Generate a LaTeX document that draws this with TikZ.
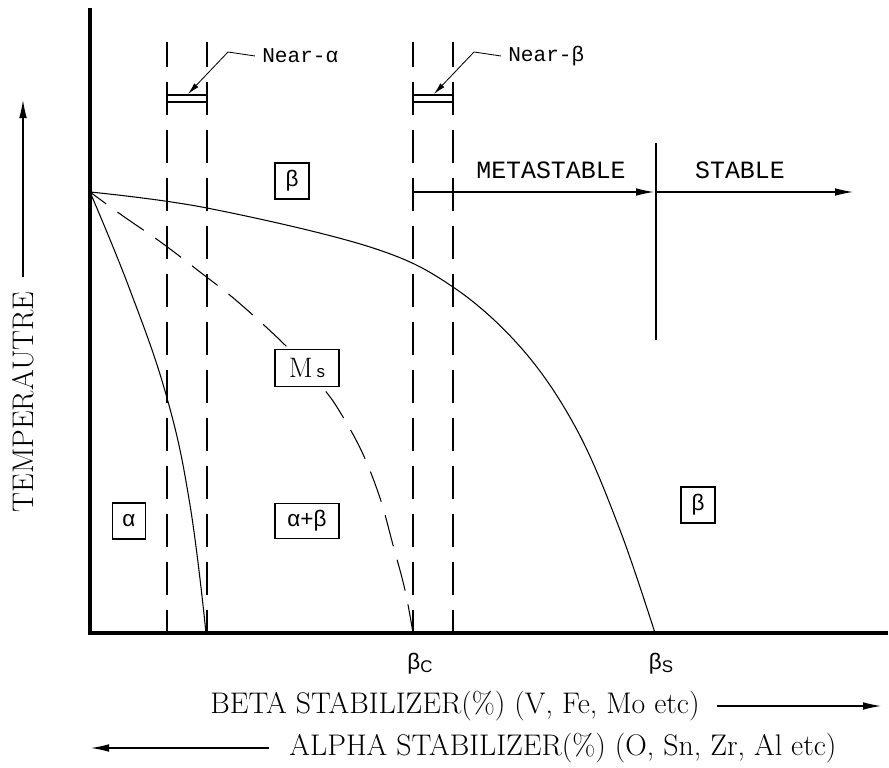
\documentclass[tikz,border=0pt]{standalone}
\usepackage{fontspec}
\usepackage{tikz}
\usetikzlibrary{arrows.meta,positioning}
\newfontfamily\tphmono{Liberation Mono}
\newfontfamily\tphsans{Liberation Sans}
\tikzset{
  tphaxis/.style={line width=2.5pt,line cap=rect},
  tphcurve/.style={line width=0.75pt},
  tphdash/.style={line width=0.75pt,dash pattern=on 0.825cm off 0.375cm},
  tphbox/.style={draw,line width=0.75pt,fill=white,inner sep=0pt,
                 minimum width=0.85cm,minimum height=0.9cm,
                 font=\tphsans\fontsize{16}{16}\selectfont},
  tpharrow/.style={-{Latex[length=4.5mm,width=1.9mm]},line width=0.75pt},
  tphlead/.style={-{Latex[length=3mm,width=1.4mm]},line width=0.6pt},
  tphtext/.style={font=\fontsize{21.2}{24}\selectfont,inner ysep=0pt},
  tphmonotext/.style={font=\tphmono\fontsize{17.7}{20}\selectfont,inner sep=0pt},
  tphnear/.style={font=\tphmono\fontsize{15}{17}\selectfont,inner ysep=0pt,
                  inner xsep=0.175cm,anchor=west}
}
\begin{document}
\begin{tikzpicture}[x=0.025cm,y=-0.025cm]
  \useasboundingbox (0,0) rectangle (889,768);

  % near-alpha and near-beta bands
  \foreach \xd in {167,207,413,453}
    \draw[tphdash,dash phase=0.2cm] (\xd,42) -- (\xd,633);
  \foreach \xs in {0,246} {
    \draw[tphcurve] (167+\xs,95) -- (207+\xs,95);
    \draw[tphcurve] (167+\xs,102) -- (207+\xs,102);
  }

  % phase boundaries
  \coordinate (orig) at (90,192);
  \draw[tphcurve] plot[smooth,tension=0.6] coordinates {(orig) (207,208)
    (370,247) (453,287) (523,350) (577,430) (620,530) (655,633)};
  \draw[tphcurve] plot[smooth,tension=0.7] coordinates {(orig) (130,290)
    (167,398) (190,505) (206,633)};
  \draw[tphdash,dash pattern=on 0.8cm off 0.35cm,dash phase=0.3cm]
    plot[smooth,tension=0.6] coordinates {(orig) (123,216) (162,243)
    (200,272) (238,302) (288,348) (323,388) (340,412) (362,452) (380,498)
    (393,545) (405,590) (413,633)};

  % axes
  \coordinate (ytop) at (90,10);
  \coordinate (xright) at (886,633);
  \draw[tphaxis] (ytop) |- (xright);

  % region labels
  \node[tphbox] (betatop) at (292,181) {β};
  \node[tphbox,minimum width=1.6cm,minimum height=0.925cm] (ms) at (307,368)
    {{\rmfamily\fontsize{20}{20}\selectfont M}\hspace{0.1cm}{\fontsize{12}{12}\selectfont s}};
  \node[tphbox,minimum width=0.825cm] (alpha) at (129,521) {α};
  \node[tphbox,minimum width=1.6cm,minimum height=0.875cm] (alphabeta)
    at (307,521) {α+β};
  \node[tphbox] (betaright) at (698,505) {β};

  % near labels
  \node[tphnear] (neara) at (255,56) {Near-α};
  \coordinate (nabend) at (228,52);
  \coordinate (natip) at (188,94);
  \draw[tphlead] (neara.west) -- (nabend) -- (natip);
  \node[tphnear] (nearb) at (501,56) {Near-β};
  \coordinate (nbbend) at (474,52);
  \coordinate (nbtip) at (434,94);
  \draw[tphlead] (nearb.west) -- (nbbend) -- (nbtip);

  % metastable / stable
  \coordinate (metal) at (413,192);
  \coordinate (metar) at (654,192);
  \coordinate (divtop) at (656,143);
  \coordinate (divbot) at (656,340);
  \coordinate (divmid) at (656,192);
  \coordinate (stabler) at (853,192);
  \draw[tpharrow] (metal) -- (metar);
  \draw[tphcurve] (divtop) -- (divbot);
  \draw[tpharrow] (divmid) -- (stabler);
  \node[tphmonotext] (meta) at (551,170) {METASTABLE};
  \node[tphmonotext] (stable) at (740,170) {STABLE};

  % critical compositions
  \node[font=\tphsans\fontsize{16}{16}\selectfont,inner sep=0pt] (betac)
    at (420,664) {β{\fontsize{12}{12}\selectfont\raisebox{-2pt}{C}}};
  \node[font=\tphsans\fontsize{16}{16}\selectfont,inner sep=0pt] (betas)
    at (661,664) {β{\fontsize{12}{12}\selectfont\raisebox{-2pt}{S}}};

  % axis titles
  \node[tphtext,inner xsep=0.425cm] (betalbl) at (455,706)
    {BETA STABILIZER(\%) (V, Fe, Mo etc)};
  \coordinate (betaend) at (881,706);
  \draw[tpharrow] (betalbl.east) -- (betaend);
  \node[tphtext,inner xsep=0.5cm] (alphalbl) at (563,748)
    {ALPHA STABILIZER(\%) (O, Sn, Zr, Al etc)};
  \coordinate (alphaend) at (91,748);
  \draw[tpharrow] (alphalbl.west) -- (alphaend);
  \node[tphtext,rotate=90,inner xsep=0.35cm] (templbl) at (23,402)
    {TEMPERAUTRE};
  \coordinate (tempend) at (23,100);
  \draw[tpharrow] (templbl.east) -- (tempend);
\end{tikzpicture}
\end{document}
